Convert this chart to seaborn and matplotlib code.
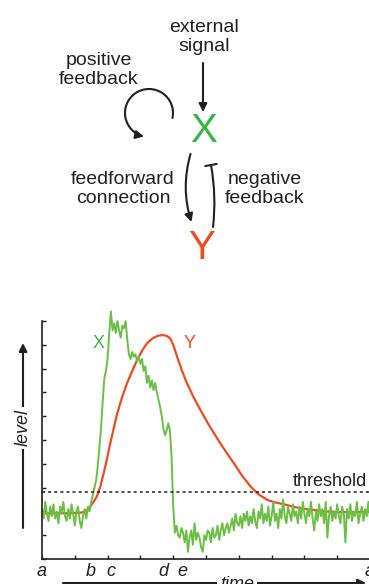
import numpy as np
import matplotlib
matplotlib.use("Agg")
import matplotlib.pyplot as plt
import seaborn as sns
from matplotlib.patches import FancyArrowPatch
from matplotlib.path import Path
from matplotlib.transforms import Affine2D

# Estilo
sns.set_theme(style="ticks")
plt.rcParams['font.family'] = ['Liberation Sans', 'DejaVu Sans']

# --- datos ---
dt = 0.05
# X (verde), muestreado cada 0.05 desde t = 0
x_base = [2.1, 1.7, 2.4, 1.9, 1.6, 2.2, 1.8, 2.3, 1.7, 2.0,
          1.5, 2.2, 1.9, 2.4, 1.8, 1.6, 2.1, 1.7, 2.3, 1.9,
          1.4, 2.0, 2.2, 1.6, 1.3, 1.8, 2.1, 1.7, 2.2, 2.0]
x_rise = [2.4, 2.7, 3.0, 3.3, 3.9, 4.7, 5.5, 6.6, 7.6, 7.9, 8.4, 9.5, 10.4]
x_high = [9.6, 9.9, 9.5, 10.0, 9.6, 9.3, 9.8, 9.7, 10.0, 9.2,
          8.6, 8.4, 8.7, 8.5, 8.6, 8.3, 8.5, 8.2, 8.4, 7.9,
          8.1, 7.4, 7.7, 7.2, 7.5, 7.1, 7.4, 7.0, 6.7, 6.4,
          6.0, 5.5, 5.2, 5.4, 5.7, 5.4, 4.3]
x_low = [2.2, 1.1, 1.4, 1.0, 0.9, 1.3, 1.1, 0.7, 1.2, 0.3,
         0.9, 1.2, 0.6, 1.5, 0.8, 1.1, 0.9, 0.5, 0.3, 1.0,
         0.8, 1.2, 1.1, 0.7, 1.3, 0.9, 1.0, 1.4, 0.8, 1.2,
         1.5, 1.0, 1.3, 1.5, 1.1, 1.4, 1.7, 1.2, 1.9, 1.5,
         1.4, 1.8, 1.3, 1.9, 1.6, 2.0, 1.4, 1.8, 1.5, 2.1,
         1.6, 1.3, 2.0, 1.7, 2.3, 1.5, 1.9, 1.6, 2.2, 1.4,
         1.8, 2.4, 1.6, 1.9, 1.3, 2.1, 1.7, 2.5, 1.8, 1.5,
         2.2, 1.9, 1.6, 2.3, 1.8, 2.0, 1.5, 2.2, 1.7, 2.4,
         1.9, 1.5, 2.1, 1.8, 2.4, 1.7, 1.2, 2.0, 1.6, 2.3,
         1.8, 2.1, 1.5, 2.4, 0.9, 1.8, 2.2, 1.6, 2.0, 1.7,
         2.3, 1.8, 1.5, 2.2, 1.9, 0.7, 2.1, 1.7, 2.3, 1.6,
         2.0, 1.8, 2.4, 1.5, 1.9, 2.2, 1.6, 2.1, 1.8, 2.4,
         1.7, 2.1, 1.9]
x_level = x_base + x_rise + x_high + x_low
x_time = np.arange(len(x_level)) * dt

# Y (rojo), curva suave
y_time = [0.0, 0.5, 1.0, 1.2, 1.35, 1.47, 1.57, 1.67, 1.78, 1.88, 1.98, 2.08,
          2.18, 2.28, 2.43, 2.59, 2.75, 2.9, 3.05, 3.2, 3.35, 3.51, 3.66, 3.8,
          3.91, 4.0, 4.12, 4.27, 4.42, 4.62, 4.83, 5.08, 5.34, 5.6, 5.85, 6.1,
          6.36, 6.6, 6.87, 7.1, 7.38, 7.65, 7.89, 8.15, 8.4, 8.65, 8.91, 9.2,
          9.5, 9.8, 10.1]
y_level = [1.92, 1.92, 1.93, 1.95, 2.02, 2.2, 2.4, 2.62, 3.05, 3.6, 4.2, 4.86,
           5.45, 6.05, 6.75, 7.38, 7.9, 8.36, 8.75, 9.06, 9.25, 9.37, 9.41, 9.38,
           9.27, 9.0, 8.5, 7.9, 7.38, 6.8, 6.26, 5.65, 5.07, 4.52, 4.02, 3.5,
           3.04, 2.72, 2.48, 2.38, 2.3, 2.2, 2.13, 2.08, 2.04, 2.0, 1.98, 1.97,
           1.97, 1.98, 1.98]

threshold = 2.83
time_ticks = list(range(11))
time_marks = [0, 1.49, 2.1, 3.69, 4.27, 10]
time_names = ['a', 'b', 'c', 'd', 'e', 'a']

GREEN_TXT = '#3cb44a'
GREEN = '#6cbf45'
RED = '#f04a22'
INK = '#231f20'

W, H = 369, 584
fig = plt.figure(figsize=(W / 100, H / 100), dpi=100)

# --- diagrama (coordenadas en píxeles) ---
ax_d = fig.add_axes([0, 0, 1, 1])
ax_d.set_xlim(0, W)
ax_d.set_ylim(0, H)
ax_d.axis('off')


def fy(y):
    return H - y


txt = dict(fontsize=14, color=INK, ha='center', va='center', linespacing=1.1)
ax_d.text(204, fy(37), 'external\nsignal', **txt)
ax_d.text(99, fy(70), 'positive\nfeedback', **txt)
ax_d.text(123, fy(189), 'feedforward\nconnection', **txt)
ax_d.text(265, fy(189), 'negative\nfeedback', **txt)
ax_d.text(204, fy(131), 'X', fontsize=29, color=GREEN_TXT, ha='center', va='center')
ax_d.text(202, fy(248), 'Y', fontsize=29, color=RED, ha='center', va='center')

arr = dict(arrowstyle='-|>', lw=1.5, color=INK, mutation_scale=12, shrinkA=0, shrinkB=0)
ax_d.annotate('', xy=(203, fy(112)), xytext=(203, fy(63)), arrowprops=arr)
ax_d.annotate('', xy=(191.5, fy(222)), xytext=(190.5, fy(154)),
              arrowprops=dict(arr, connectionstyle='arc3,rad=0.15'))
ax_d.annotate('', xy=(211, fy(165)), xytext=(213, fy(227)),
              arrowprops=dict(arrowstyle='-[, widthB=0.35, lengthB=0', lw=1.5, color=INK,
                              mutation_scale=12, shrinkA=0, shrinkB=0,
                              connectionstyle='arc3,rad=0.075'))

loop = Path.arc(-12, 258).transformed(Affine2D().scale(24).translate(149, fy(113)))
ax_d.add_patch(FancyArrowPatch(path=loop, arrowstyle='-|>', mutation_scale=12,
                               lw=1.5, color=INK))

# flechas de ejes: level / time
ax_d.annotate('', xy=(23, fy(343)), xytext=(23, fy(528)), arrowprops=arr)
ax_d.text(23, fy(428), 'level', rotation=90, fontsize=13, fontstyle='italic', color=INK,
          ha='center', va='center',
          bbox=dict(facecolor='white', edgecolor='none', pad=2))
ax_d.annotate('', xy=(366, fy(583)), xytext=(63, fy(583)), arrowprops=arr)
ax_d.text(237, fy(576), 'time', fontsize=13, fontstyle='italic', color=INK,
          ha='center', va='top',
          bbox=dict(facecolor='white', edgecolor='none', pad=2))

# --- serie temporal ---
ax = fig.add_axes([42 / W, 25 / H, 331.3 / W, 238 / H])
ax.set_facecolor('none')
sns.lineplot(x=y_time, y=y_level, ax=ax, color=RED, lw=1.6)
sns.lineplot(x=x_time, y=x_level, ax=ax, color=GREEN, lw=1.4, clip_on=False)
ax.axhline(threshold, color=INK, ls=(0, (2, 2)), lw=1.1)

ax.set_xlim(0, 10.1)
ax.set_ylim(0, 10)
ax.xaxis.remove_overlapping_locs = False
ax.set_xticks(time_ticks, labels=[''] * len(time_ticks))
ax.set_yticks(time_ticks, labels=[''] * len(time_ticks))
ax.set_xticks(time_marks, labels=time_names, minor=True, fontstyle='italic', fontsize=13)
ax.tick_params(which='major', direction='in', length=3, width=1, color=INK)
ax.tick_params(which='minor', length=0, pad=3, labelcolor=INK)
ax.set_xlabel('')
ax.set_ylabel('')
for s in ['top', 'right']:
    ax.spines[s].set_visible(False)
for s in ['left', 'bottom']:
    ax.spines[s].set_color(INK)
    ax.spines[s].set_linewidth(1.2)

ax.text(1.74, 9.07, 'X', color=GREEN_TXT, fontsize=13, ha='center', va='center')
ax.text(4.5, 9.07, 'Y', color=RED, fontsize=13, ha='center', va='center')
ax.text(9.91, 3.07, 'threshold', color=INK, fontsize=13, ha='right', va='baseline')

fig.savefig('out.png', dpi=100)
